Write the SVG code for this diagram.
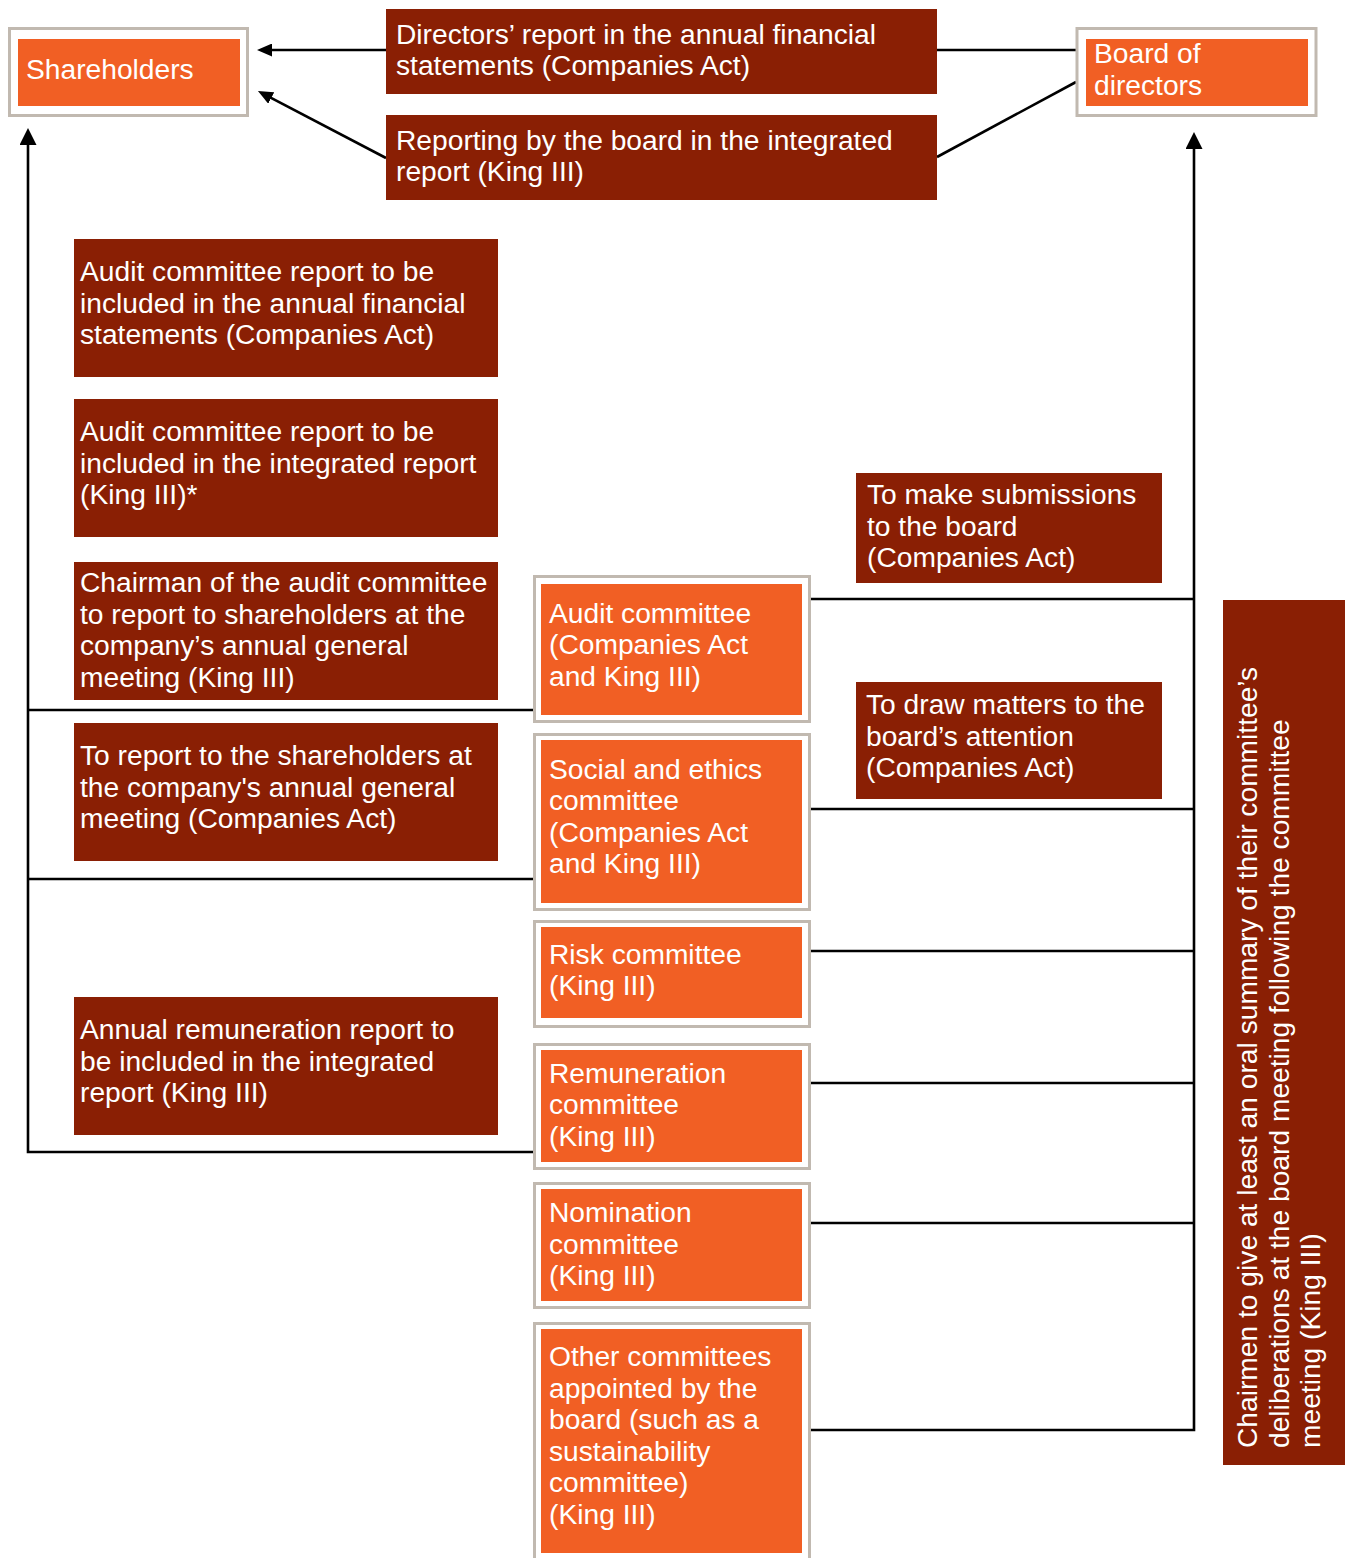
<svg xmlns="http://www.w3.org/2000/svg" width="1349" height="1558" viewBox="0 0 1349 1558">
<style>
.t{font-family:"Liberation Sans",Arial,sans-serif;font-size:28.2px;fill:#ffffff}
.dark{fill:#8A1F04}
.org{fill:#F15F24}
.frame{fill:#ffffff;stroke:#C1B9B0;stroke-width:3}
.ln{stroke:#000000;stroke-width:2.6;fill:none}
</style>
<defs>
<marker id="arr" viewBox="0 0 15 13" refX="4" refY="6.5" markerWidth="15" markerHeight="13" markerUnits="userSpaceOnUse" orient="auto">
<path d="M0,0 L15,6.5 L0,13 z" fill="#000000"/>
</marker>
<marker id="arrL" viewBox="0 0 17 17" refX="5" refY="8.5" markerWidth="17" markerHeight="17" markerUnits="userSpaceOnUse" orient="auto">
<path d="M0,0 L17,8.5 L0,17 z" fill="#000000"/>
</marker>
</defs>
<rect width="1349" height="1558" fill="#ffffff"/>

<g id="connectors">
<line class="ln" x1="386" y1="50" x2="268" y2="50" marker-end="url(#arr)"/>
<line class="ln" x1="386" y1="158" x2="267.7" y2="96.1" marker-end="url(#arr)"/>
<line class="ln" x1="937" y1="50" x2="1076" y2="50"/>
<line class="ln" x1="937" y1="157" x2="1076" y2="82"/>
<polyline class="ln" points="533,1152 28,1152 28,140" marker-end="url(#arrL)"/>
<line class="ln" x1="28" y1="710" x2="533" y2="710"/>
<line class="ln" x1="28" y1="879" x2="533" y2="879"/>
<polyline class="ln" points="811,1430 1194,1430 1194,144" marker-end="url(#arrL)"/>
<line class="ln" x1="811" y1="599" x2="1194" y2="599"/>
<line class="ln" x1="811" y1="809" x2="1194" y2="809"/>
<line class="ln" x1="811" y1="951" x2="1194" y2="951"/>
<line class="ln" x1="811" y1="1083" x2="1194" y2="1083"/>
<line class="ln" x1="811" y1="1223" x2="1194" y2="1223"/>
</g>

<g id="shareholders">
<rect class="frame" x="9.5" y="28.5" width="238" height="87"/>
<rect class="org" x="18" y="39" width="222" height="67"/>
<text class="t" x="26" y="79">Shareholders</text>
</g>

<g id="board">
<rect class="frame" x="1077" y="28.5" width="239" height="87"/>
<rect class="org" x="1086" y="39" width="222" height="67"/>
<text class="t"><tspan x="1094" y="63">Board of</tspan><tspan x="1094" y="95">directors</tspan></text>
</g>

<g id="directors-report">
<rect class="dark" x="386" y="9" width="551" height="85"/>
<text class="t"><tspan x="396" y="43.5">Directors’ report in the annual financial</tspan><tspan x="396" y="75">statements (Companies Act)</tspan></text>
</g>

<g id="integrated-report">
<rect class="dark" x="386" y="115" width="551" height="85"/>
<text class="t"><tspan x="396" y="149.5">Reporting by the board in the integrated</tspan><tspan x="396" y="181">report (King III)</tspan></text>
</g>

<g id="audit-afs">
<rect class="dark" x="74" y="239" width="424" height="138"/>
<text class="t"><tspan x="80" y="281">Audit committee report to be</tspan><tspan x="80" y="312.5">included in the annual financial</tspan><tspan x="80" y="344">statements (Companies Act)</tspan></text>
</g>

<g id="audit-ir">
<rect class="dark" x="74" y="399" width="424" height="138"/>
<text class="t"><tspan x="80" y="441">Audit committee report to be</tspan><tspan x="80" y="472.5">included in the integrated report</tspan><tspan x="80" y="504">(King III)*</tspan></text>
</g>

<g id="audit-chairman">
<rect class="dark" x="74" y="562" width="424" height="138"/>
<text class="t"><tspan x="80" y="592">Chairman of the audit committee</tspan><tspan x="80" y="623.5">to report to shareholders at the</tspan><tspan x="80" y="655">company’s annual general</tspan><tspan x="80" y="686.5">meeting (King III)</tspan></text>
</g>

<g id="report-agm">
<rect class="dark" x="74" y="723" width="424" height="138"/>
<text class="t"><tspan x="80" y="765">To report to the shareholders at</tspan><tspan x="80" y="796.5">the company's annual general</tspan><tspan x="80" y="828">meeting (Companies Act)</tspan></text>
</g>

<g id="remuneration-report">
<rect class="dark" x="74" y="997" width="424" height="138"/>
<text class="t"><tspan x="80" y="1039">Annual remuneration report to</tspan><tspan x="80" y="1070.5">be included in the integrated</tspan><tspan x="80" y="1102">report (King III)</tspan></text>
</g>

<g id="submissions">
<rect class="dark" x="856" y="473" width="306" height="110"/>
<text class="t"><tspan x="867" y="504">To make submissions</tspan><tspan x="867" y="535.5">to the board</tspan><tspan x="867" y="567">(Companies Act)</tspan></text>
</g>

<g id="draw-matters">
<rect class="dark" x="856" y="682" width="306" height="117"/>
<text class="t"><tspan x="866" y="714">To draw matters to the</tspan><tspan x="866" y="745.5">board’s attention</tspan><tspan x="866" y="777">(Companies Act)</tspan></text>
</g>

<g id="audit-committee">
<rect class="frame" x="534.5" y="576.5" width="275" height="145"/>
<rect class="org" x="541" y="584" width="261" height="131"/>
<text class="t"><tspan x="549" y="622.5">Audit committee</tspan><tspan x="549" y="654">(Companies Act</tspan><tspan x="549" y="685.5">and King III)</tspan></text>
</g>

<g id="social-ethics-committee">
<rect class="frame" x="534.5" y="734.5" width="275" height="175"/>
<rect class="org" x="541" y="740" width="261" height="163"/>
<text class="t"><tspan x="549" y="778.5">Social and ethics</tspan><tspan x="549" y="810">committee</tspan><tspan x="549" y="841.5">(Companies Act</tspan><tspan x="549" y="873">and King III)</tspan></text>
</g>

<g id="risk-committee">
<rect class="frame" x="534.5" y="921.5" width="275" height="105"/>
<rect class="org" x="541" y="927" width="261" height="91"/>
<text class="t"><tspan x="549" y="963.5">Risk committee</tspan><tspan x="549" y="995">(King III)</tspan></text>
</g>

<g id="remuneration-committee">
<rect class="frame" x="534.5" y="1044.5" width="275" height="124"/>
<rect class="org" x="541" y="1050" width="261" height="112"/>
<text class="t"><tspan x="549" y="1082.5">Remuneration</tspan><tspan x="549" y="1114">committee</tspan><tspan x="549" y="1145.5">(King III)</tspan></text>
</g>

<g id="nomination-committee">
<rect class="frame" x="534.5" y="1183.5" width="275" height="124"/>
<rect class="org" x="541" y="1189" width="261" height="112"/>
<text class="t"><tspan x="549" y="1222">Nomination</tspan><tspan x="549" y="1253.5">committee</tspan><tspan x="549" y="1285">(King III)</tspan></text>
</g>

<g id="other-committees">
<rect class="frame" x="534.5" y="1323.5" width="275" height="240"/>
<rect class="org" x="541" y="1329" width="261" height="224"/>
<text class="t"><tspan x="549" y="1366">Other committees</tspan><tspan x="549" y="1397.5">appointed by the</tspan><tspan x="549" y="1429">board (such as a</tspan><tspan x="549" y="1460.5">sustainability</tspan><tspan x="549" y="1492">committee)</tspan><tspan x="549" y="1523.5">(King III)</tspan></text>
</g>

<g id="chairmen-summary">
<rect class="dark" x="1223" y="600" width="122" height="865"/>
<text class="t" transform="rotate(-90)"><tspan x="-1448" y="1257">Chairmen to give at least an oral summary of their committee’s</tspan><tspan x="-1448" y="1288.5">deliberations at the board meeting following the committee</tspan><tspan x="-1448" y="1320">meeting (King III)</tspan></text>
</g>
</svg>
